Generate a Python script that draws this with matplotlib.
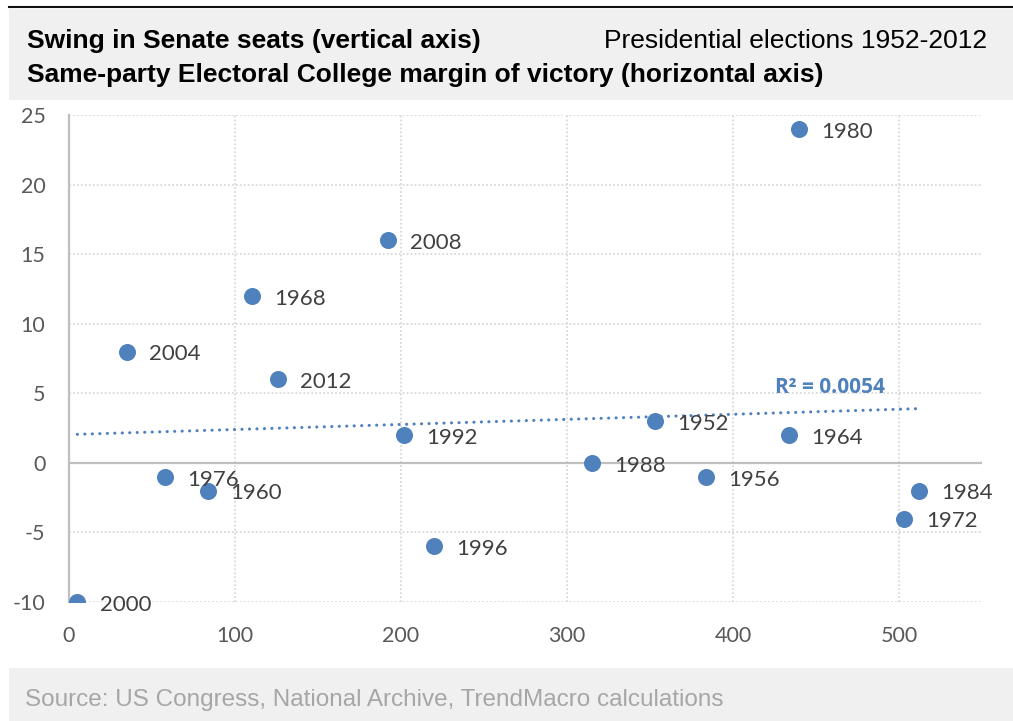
import matplotlib
matplotlib.use("Agg")
from matplotlib import pyplot as plt
from matplotlib.patches import Rectangle
from matplotlib.lines import Line2D
import numpy as np

# data
years = ["1952", "1956", "1960", "1964", "1968", "1972", "1976", "1980",
         "1984", "1988", "1992", "1996", "2000", "2004", "2008", "2012"]
ec_margin = [353, 384, 84, 434, 110, 503, 58, 440, 512, 315, 202, 220, 5, 35, 192, 126]
senate_swing = [3, -1, -2, 2, 12, -4, -1, 24, -2, 0, 2, -6, -10, 8, 16, 6]
x_ticks = [0, 100, 200, 300, 400, 500]
y_ticks = [-10, -5, 0, 5, 10, 15, 20, 25]

BLUE = "#4F81BD"
GRID = "#d9d9d9"
AXIS = "#bfbfbf"
TICK_FONT = "Lato"

fig = plt.figure(figsize=(10.13, 7.21), dpi=100)
W, H = 1013, 721

# header / footer backgrounds
fig.patches.append(Rectangle((9 / W, 1 - 100 / H), 1 - 9 / W, 91 / H,
                             transform=fig.transFigure, facecolor="#f0f0f0",
                             edgecolor="none", zorder=0))
fig.patches.append(Rectangle((9 / W, 0), 1 - 9 / W, 53 / H,
                             transform=fig.transFigure, facecolor="#f0f0f0",
                             edgecolor="none", zorder=0))
fig.lines.append(Line2D([9 / W, 1], [1 - 7 / H, 1 - 7 / H], transform=fig.transFigure,
                        color="#111111", lw=1.5))

fig.text(27 / W, 1 - 48 / H, "Swing in Senate seats (vertical axis)",
         fontsize=19, fontweight="bold", family="Liberation Sans", va="baseline")
fig.text(987 / W, 1 - 48 / H, "Presidential elections 1952-2012",
         fontsize=19, family="Liberation Sans", va="baseline", ha="right")
fig.text(27 / W, 1 - 82 / H, "Same-party Electoral College margin of victory (horizontal axis)",
         fontsize=19, fontweight="bold", family="Liberation Sans", va="baseline")
fig.text(25 / W, 1 - 706 / H, "Source: US Congress, National Archive, TrendMacro calculations",
         fontsize=17.5, family="Liberation Sans", color="#a6a6a6", va="baseline")

left, right = 69 / W, 982 / W
bottom, top = 1 - 602 / H, 1 - 115 / H
ax = fig.add_axes([left, bottom, right - left, top - bottom])
ax.set_xlim(0, 550)
ax.set_ylim(-10, 25)
ax.set_xticks(x_ticks)
ax.set_yticks(y_ticks)
ax.set_yticklabels([str(v) for v in y_ticks])

for s in ["top", "right", "bottom"]:
    ax.spines[s].set_visible(False)
ax.spines["left"].set_color(AXIS)
ax.spines["left"].set_linewidth(1.6)
ax.axhline(0, color=AXIS, lw=1.6, zorder=1)

for v in y_ticks:
    if v != 0:
        ax.axhline(v, color=GRID, lw=1.3, ls=(0, (1, 1.2)), zorder=0)
for v in x_ticks[1:]:
    ax.axvline(v, color=GRID, lw=1.3, ls=(0, (1, 1.2)), zorder=0)

ax.tick_params(length=0, labelsize=15.5, labelcolor="#595959", pad=17)
ax.tick_params(axis="y", pad=17)
for lab in ax.get_xticklabels() + ax.get_yticklabels():
    lab.set_family(TICK_FONT)

ax.scatter(ec_margin, senate_swing, s=150, color=BLUE, zorder=3, linewidths=0)
for xv, yv, lab in zip(ec_margin, senate_swing, years):
    ax.annotate(lab, (xv, yv), xytext=(16, -2), textcoords="offset points",
                fontsize=16, family=TICK_FONT, color="#404040", va="center", zorder=4)

# linear trend line
coef = np.polyfit(ec_margin, senate_swing, 1)
xs = np.array([min(ec_margin), max(ec_margin)])
ax.plot(xs, np.polyval(coef, xs), color=BLUE, lw=2.2, ls=(0, (0.05, 2.4)),
        dash_capstyle="round", zorder=2)
ax.text(425, 5.4, "R² = 0.0054", fontsize=15, fontweight="bold", color=BLUE,
        family="Open Sans", va="center")

fig.savefig("out.png", dpi=100)
